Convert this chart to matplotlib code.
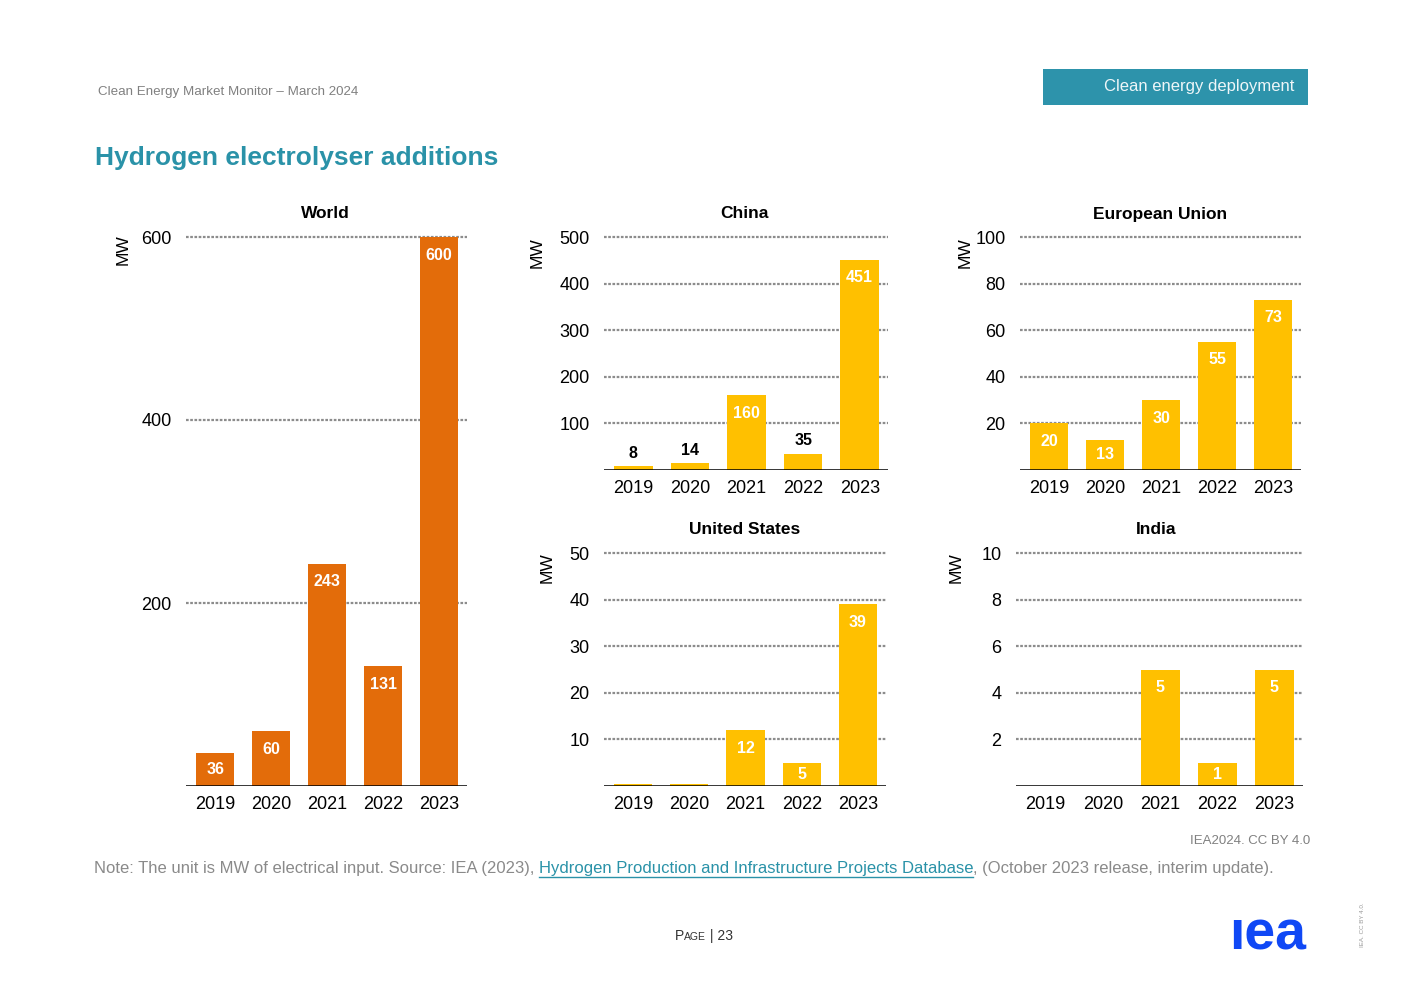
import matplotlib
matplotlib.use('Agg')
from matplotlib import pyplot as plt
from matplotlib.patches import Rectangle
from matplotlib.lines import Line2D
import numpy as np

plt.rcParams['font.family'] = ['Liberation Sans', 'DejaVu Sans']

# data (MW of electrical input)
years = ['2019', '2020', '2021', '2022', '2023']
world = [36, 60, 243, 131, 600]
china = [8, 14, 160, 35, 451]
eu = [20, 13, 30, 55, 73]
us = [0.4, 0.4, 12, 5, 39]
india = [0, 0, 5, 1, 5]

world_ticks = [200, 400, 600]
china_ticks = [100, 200, 300, 400, 500]
eu_ticks = [20, 40, 60, 80, 100]
us_ticks = [10, 20, 30, 40, 50]
india_ticks = [2, 4, 6, 8, 10]

W, H = 1403, 992
ORANGE = '#E36C0A'
YELLOW = '#FFC000'
TEAL = '#2A92A8'
GREY = '#808080'

fig = plt.figure(figsize=(W / 100, H / 100), dpi=100)


def px(x, y):
    return x / W, 1 - y / H


def panel(box, title, values, ticks, color, title_xy, mw_xy):
    x0, y0, x1, y1 = box
    ax = fig.add_axes([x0 / W, 1 - y1 / H, (x1 - x0) / W, (y1 - y0) / H])
    xs = np.arange(len(years))
    ax.bar(xs, values, width=0.68, color=color, zorder=2)
    for t in ticks:
        ax.axhline(t, color='#8C8C8C', lw=1.6, ls=(0, (1.2, 0.7)), zorder=1, clip_on=False)
    ax.axhline(0, color='black', lw=1.1, zorder=3)
    ax.set_ylim(0, ticks[-1])
    ax.set_xlim(-0.52, 4.5)
    ax.set_yticks(ticks)
    ax.set_xticks(xs)
    ax.set_xticklabels(years)
    ax.tick_params(axis='both', length=0, labelsize=13)
    ax.tick_params(axis='y', pad=10.5)
    ax.tick_params(axis='x', pad=7)
    for s in ax.spines.values():
        s.set_visible(False)
    ppu = (y1 - y0) / ticks[-1]
    for x, v in zip(xs, values):
        if v < 1:
            continue
        h = v * ppu
        if h < 20:
            ax.annotate(str(v), (x, v), xytext=(0, 13), textcoords='offset pixels',
                        ha='center', va='center', fontsize=11.5, fontweight='bold',
                        color='black')
        else:
            ax.annotate(str(v), (x, v), xytext=(0, -min(18, h / 2)), textcoords='offset pixels',
                        ha='center', va='center', fontsize=11.5, fontweight='bold',
                        color='white')
    fig.text(*px(*title_xy), title, ha='center', va='center', fontsize=12.5, fontweight='bold')
    fig.text(*px(*mw_xy), 'MW', rotation=90, ha='center', va='center', fontsize=12.5)
    return ax


panel((186, 237, 467, 786), 'World', world, world_ticks, ORANGE, (325, 214), (123, 250))
panel((604, 237, 888, 470), 'China', china, china_ticks, YELLOW, (744, 214), (537, 253))
panel((1020, 237, 1301, 470), 'European Union', eu, eu_ticks, YELLOW, (1160, 214), (965, 253))
panel((604, 553, 886, 786), 'United States', us, us_ticks, YELLOW, (745, 529), (547, 568))
panel((1016, 553, 1303, 786), 'India', india, india_ticks, YELLOW, (1156, 529), (956, 568))

# header
fig.text(*px(98, 92), 'Clean Energy Market Monitor \u2013 March 2024', fontsize=9.6,
         color=GREY, va='center')
fig.add_artist(Rectangle(px(1043, 105), 265 / W, 36 / H, transform=fig.transFigure,
                         color='#2D93AB', lw=0))
fig.text(*px(1294, 87), 'Clean energy deployment', fontsize=12, color='#EEF6F8',
         ha='right', va='center')
fig.text(*px(95, 158), 'Hydrogen electrolyser additions', fontsize=19, fontweight='bold',
         color=TEAL, va='center')

# footer
fig.text(*px(1310, 841), 'IEA2024. CC BY 4.0', fontsize=9.5, color=GREY, ha='right', va='center')

fig.canvas.draw()
r = fig.canvas.get_renderer()
ny = 1 - 873 / H
t1 = fig.text(94 / W, ny, 'Note: The unit is MW of electrical input. Source: IEA (2023), ',
              fontsize=12, color='#8A8A8A', va='baseline')
bb = t1.get_window_extent(r)
t2 = fig.text(bb.x1 / W, ny, 'Hydrogen Production and Infrastructure Projects Database',
              fontsize=12, color=TEAL, va='baseline')
bb2 = t2.get_window_extent(r)
fig.add_artist(Line2D([bb2.x0 / W, bb2.x1 / W], [ny - 4 / H, ny - 4 / H],
                      transform=fig.transFigure, color=TEAL, lw=1))
fig.text(bb2.x1 / W, ny, ', (October 2023 release, interim update).',
         fontsize=12, color='#8A8A8A', va='baseline')

py = 1 - 940 / H
p1 = fig.text(675 / W, py, 'P', fontsize=10, color='#333333', va='baseline')
b = p1.get_window_extent(r)
p2 = fig.text(b.x1 / W, py, 'AGE', fontsize=7.5, color='#333333', va='baseline')
b = p2.get_window_extent(r)
fig.text(b.x1 / W, py, ' | 23', fontsize=10, color='#333333', va='baseline')

fig.text(*px(1229, 935), '\u0131ea', fontsize=40, fontweight='bold', color='#1048F5',
         va='center')
fig.text(*px(1363, 925), 'IEA. CC BY 4.0.', fontsize=4.5, color='#999999', rotation=90,
         ha='center', va='center')

fig.savefig('out.png', dpi=100)
